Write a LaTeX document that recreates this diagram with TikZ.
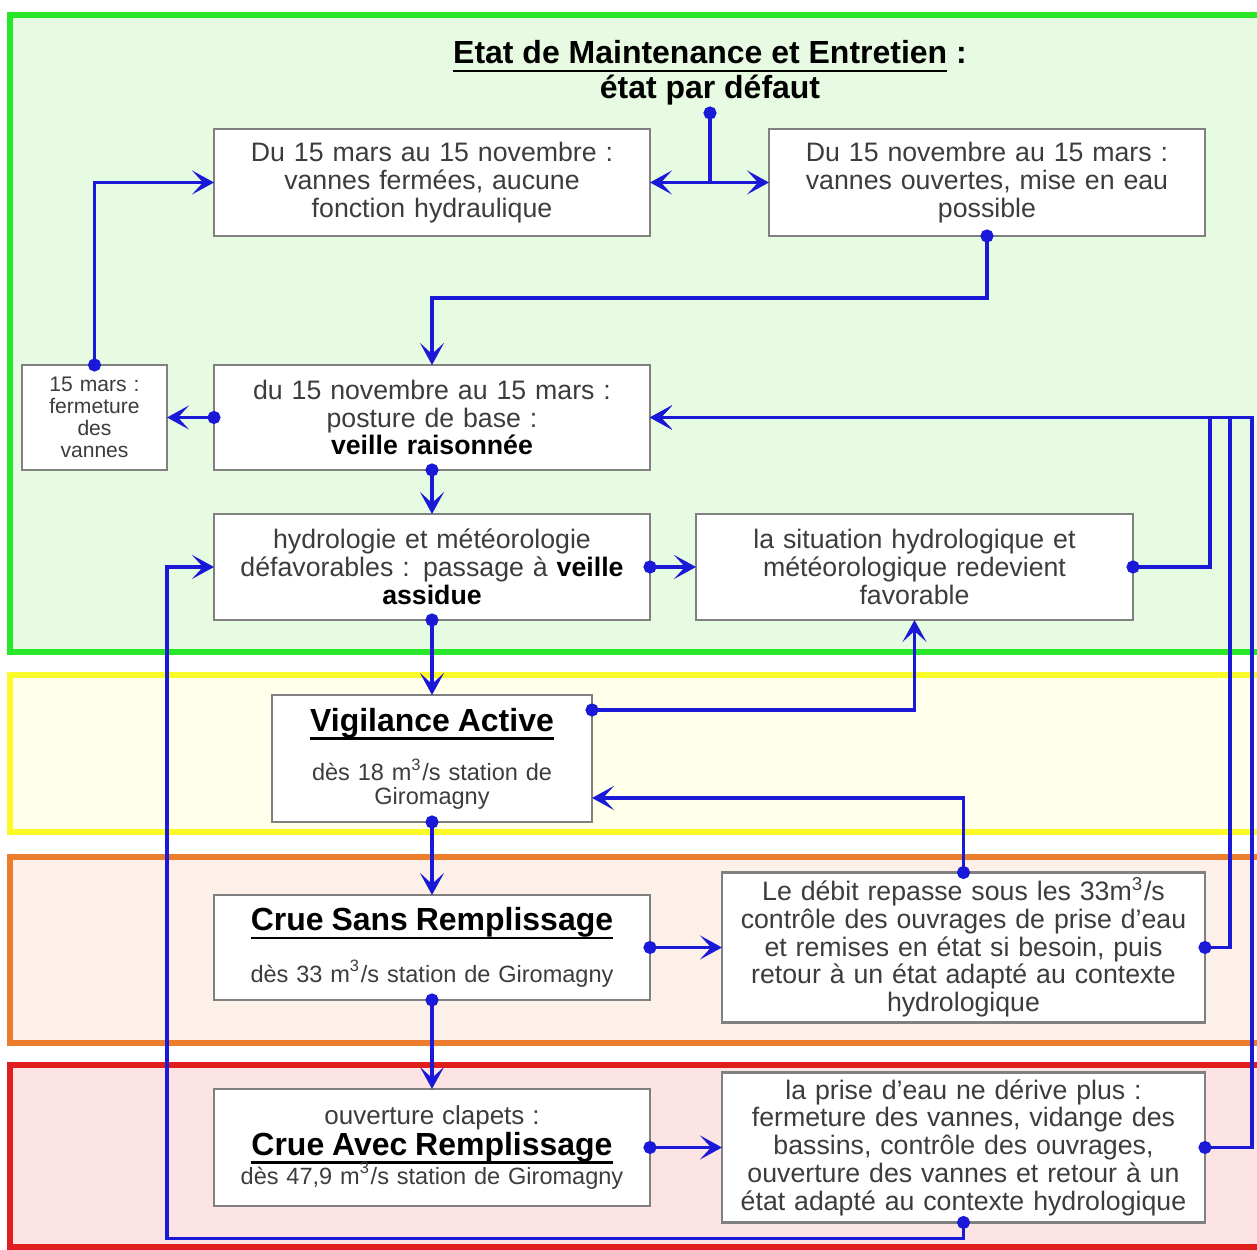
\documentclass[tikz,border=0pt]{standalone}
\usepackage{fontspec}
\setmainfont{Liberation Sans}
\usetikzlibrary{positioning}
\usetikzlibrary{arrows.meta}

\definecolor{linkblue}{RGB}{25,25,215}
\definecolor{boxgray}{RGB}{128,128,128}
\definecolor{txtgray}{RGB}{60,60,60}
\definecolor{greenline}{RGB}{40,230,40}
\definecolor{greenfill}{RGB}{230,251,225}
\definecolor{yellowline}{RGB}{250,250,40}
\definecolor{yellowfill}{RGB}{255,255,234}
\definecolor{orangeline}{RGB}{235,125,45}
\definecolor{orangefill}{RGB}{253,240,232}
\definecolor{redline}{RGB}{225,30,30}
\definecolor{redfill}{RGB}{252,228,228}

\newcommand{\thickul}[1]{\leavevmode\setbox0\hbox{#1}\rlap{\rule[-2.4pt]{\wd0}{0.75pt}}\box0\relax}
\newcommand{\boxtitle}[1]{{\fontsize{9.1}{10}\selectfont\bfseries\color{black}\thickul{#1}}}

\begin{document}
\begin{tikzpicture}[
        x=0.1mm, y=-0.1mm,
        box/.style={rectangle, draw=boxgray, line width=0.6pt, fill=white, inner sep=0pt, outer sep=0pt, align=center, text=txtgray, font=\fontsize{7.6}{7.9}\selectfont, text width=43.6mm, minimum height=10.6mm},
        head/.style={align=center, text=black, font=\fontsize{9.1}{9.9}\selectfont\bfseries},
        band/.style={line width=1.6pt},
        link/.style={draw=linkblue, line width=0.9pt},
        dot/.style={link, {Circle[length=1.3mm,sep=-0.65mm]}-},
        tip/.style={link, -{Stealth[length=2.2mm,width=2.4mm,inset=1.1mm]}},
        arrow/.style={link, {Circle[length=1.3mm,sep=-0.65mm]}-{Stealth[length=2.2mm,width=2.4mm,inset=1.1mm]}}
        ]

        \useasboundingbox (0,0) rectangle (1257,1250);

        % Bands
        \draw[band, draw=greenline, fill=greenfill] (10,15) rectangle (1275,652);
        \draw[band, draw=yellowline, fill=yellowfill] (10,675) rectangle (1275,832);
        \draw[band, draw=orangeline, fill=orangefill] (10,857) rectangle (1275,1043);
        \draw[band, draw=redline, fill=redfill] (10,1065) rectangle (1275,1247);

        % Nodes
        \node[head] (title) at (710,73) {\thickul{Etat de Maintenance et Entretien} :\\ état par défaut};
        \node[box, minimum height=10.7mm] (marsnov) at (432,182.5) {Du 15 mars au 15 novembre :\\ vannes fermées, aucune\\ fonction hydraulique};
        \node[box, minimum height=10.7mm, right=11.9mm of marsnov] (novmars) {Du 15 novembre au 15 mars :\\ vannes ouvertes, mise en eau\\ possible};
        \node[box, minimum height=10.5mm, below=12.9mm of marsnov] (base) {du 15 novembre au 15 mars :\\ posture de base :\\ \textbf{\color{black}veille raisonnée}};
        \node[box, text width=14.5mm, minimum height=10.5mm, font=\fontsize{6}{6.3}\selectfont, left=4.7mm of base] (fermeture) {15 mars :\\ fermeture\\ des\\ vannes};
        \node[box, below=4.4mm of base] (assidue) {hydrologie et météorologie\\ défavorables : passage à \textbf{\color{black}veille}\\ \textbf{\color{black}assidue}};
        \node[box, text width=43.7mm, right=4.6mm of assidue] (favorable) {la situation hydrologique et\\ météorologique redevient\\ favorable};
        \node[box, text width=32mm, minimum height=12.7mm, font=\fontsize{6.7}{6.6}\selectfont, below=7.5mm of assidue] (vigilance) {\boxtitle{Vigilance Active}\\[4.5pt] dès 18 m\textsuperscript{3}/s station de\\ Giromagny};
        \node[box, minimum height=10.5mm, font=\fontsize{6.7}{6.8}\selectfont, below=7.3mm of vigilance] (sansremp) {\boxtitle{Crue Sans Remplissage}\\[5pt] dès 33 m\textsuperscript{3}/s station de Giromagny};
        \node[box, text width=48.3mm, minimum height=15mm, right=7.2mm of sansremp] (debit33) {Le débit repasse sous les 33m\textsuperscript{3}/s\\ contrôle des ouvrages de prise d'eau\\ et remises en état si besoin, puis\\ retour à un état adapté au contexte\\ hydrologique};
        \node[box, minimum height=11.7mm, font=\fontsize{6.7}{6.8}\selectfont, below=8.9mm of sansremp] (avecremp) {{\fontsize{7.4}{7.6}\selectfont ouverture clapets :}\\[-0.5pt] \boxtitle{Crue Avec Remplissage}\\[-1.5pt] dès 47,9 m\textsuperscript{3}/s station de Giromagny};
        \node[box, text width=48.3mm, minimum height=15mm, right=7.2mm of avecremp] (prise) {la prise d'eau ne dérive plus :\\ fermeture des vannes, vidange des\\ bassins, contrôle des ouvrages,\\ ouverture des vannes et retour à un\\ état adapté au contexte hydrologique};

        % Arrows
        \coordinate (tdot) at (710,113);
        \draw[dot] (tdot) -- (tdot |- marsnov.east) coordinate (split);
        \draw[tip] (split) -- (marsnov.east);
        \draw[tip] (split) -- (novmars.west);
        \draw[arrow] (novmars.south) -- ++(0,62) -| (base.north);
        \draw[arrow] (base.west) -- (fermeture.east);
        \draw[arrow] (fermeture.north) |- (marsnov.west);
        \draw[arrow] (base.south) -- (assidue.north);
        \draw[arrow] (assidue.east) -- (favorable.west);
        \draw[arrow] (favorable.east) -- ++(77,0) |- (base.east);
        \draw[arrow] (assidue.south) -- (vigilance.north);
        \draw[arrow] ([yshift=-1.5mm]vigilance.north east) -| (favorable.south);
        \draw[arrow] (vigilance.south) -- (sansremp.north);
        \draw[arrow] (sansremp.east) -- (debit33.west);
        \draw[arrow] (debit33.north) |- ([yshift=-3.95mm]vigilance.east);
        \draw[arrow] (debit33.east) -- ++(25,0) |- (base.east);
        \draw[arrow] (sansremp.south) -- (avecremp.north);
        \draw[arrow] (avecremp.east) -- (prise.west);
        \draw[arrow] (prise.east) -- ++(47,0) |- (base.east);
        \draw[arrow] (prise.south) -- ++(0,16) -| ([xshift=-4.7mm]assidue.west) -- (assidue.west);

    \end{tikzpicture}
\end{document}
